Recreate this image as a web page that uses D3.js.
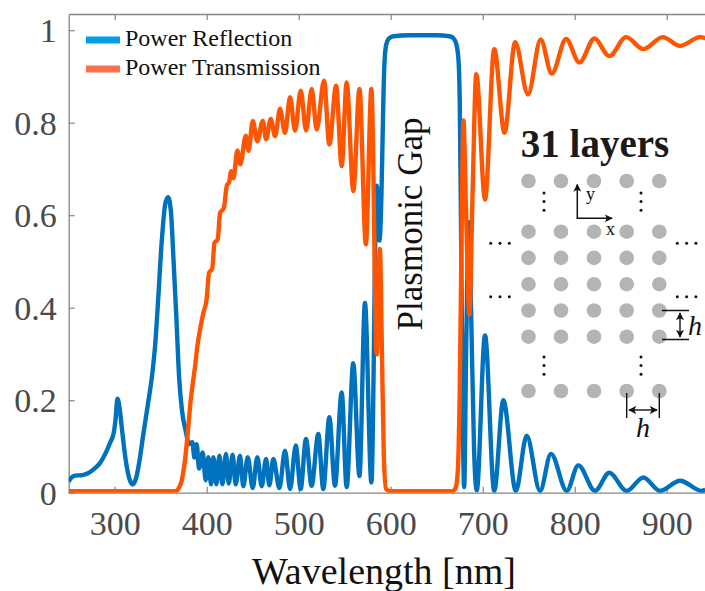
<!DOCTYPE html>
<html>
<head>
<meta charset="utf-8">
<script src="https://cdn.jsdelivr.net/npm/d3@7"></script>
<style>
  body { margin: 0; background: #fff; }
  svg { display: block; }
  text { font-family: "Liberation Serif", "Times New Roman", serif; }
</style>
</head>
<body>
<div id="chart"></div>
<script>
// wavelength [nm], power reflection
var reflection = [
  [250,0.024],[253,0.033],[257,0.037],[265,0.038],[271,0.042],[278,0.052],[284,0.064],[290,0.085],
  [295,0.108],[299,0.13],[301,0.16],[303,0.203],[305.5,0.18],[308,0.135],[312,0.07],[316,0.03],
  [319.5,0.018],[323,0.03],[327,0.07],[331,0.125],[336,0.19],[341,0.26],[344,0.32],[347,0.41],
  [351,0.54],[355,0.625],[358,0.639],[361,0.61],[364,0.5],[367,0.38],[370,0.25],[373,0.18],
  [377,0.135],[381,0.105],[384.4,0.109],[386.6,0.076],[389.1,0.105],[391.7,0.052],[395.6,0.087],
  [398.9,0.027],[401.8,0.077],[404.7,0.018],[407.2,0.077],[410.5,0.018],[413.8,0.08],[417,0.018],
  [421,0.084],[423.9,0.02],[428.2,0.082],[431.5,0.018],[436.2,0.08],[439.8,0.014],[444.6,0.077],
  [450,0.01],[455,0.077],[459.8,0.014],[464.5,0.073],[468.1,0.016],[472.4,0.073],[479,0.01],
  [485.1,0.091],[490.6,0.008],[496.8,0.102],[502.1,0.008],[507.9,0.116],[514,0.015],[521.3,0.127],
  [526.7,0.008],[533.3,0.163],[539.4,0.015],[546.7,0.217],[552.1,0.012],[559.3,0.28],[566,0.036],
  [572,0.41],[579,0.022],[584.8,0.664],[587.8,0.545],[590,0.65],[591.5,0.8],[593,0.92],[595,0.968],
  [598,0.982],[603,0.987],[620,0.989],[650,0.989],[664,0.987],[668,0.983],[671,0.972],[673.5,0.94],
  [675,0.85],[676.3,0.6],[677.5,0.32],[678.7,0.1],[679.8,0.012],[682.3,0.35],[685,0.585],[687.5,0.38],
  [690.5,0.1],[693.5,0.005],[702.5,0.34],[712.5,0.004],[722.4,0.2],[736,0.004],[747.8,0.123],
  [762.3,0.004],[774.2,0.084],[791.3,0.004],[803.9,0.059],[822.1,0.004],[837.6,0.043],[856.5,0.004],
  [874.6,0.033],[892.7,0.004],[914.5,0.026],[938,0.004],[942,0.006]
];

// wavelength [nm], power transmission
var transmission = [
  [250,0.003],[366,0.003],[369,0.008],[372.8,0.026],[376.4,0.07],[380,0.143],[382.6,0.2],[385.4,0.244],
  [387.3,0.272],[389.8,0.316],[392.7,0.352],[396.3,0.388],[400,0.42],[402.5,0.475],[406,0.485],
  [408.5,0.54],[412,0.548],[414.5,0.605],[418.5,0.615],[422,0.665],[424.5,0.672],[426.5,0.695],
  [429,0.68],[433.3,0.74],[436.5,0.71],[442.5,0.772],[445.5,0.739],[450,0.804],[455,0.76],
  [460.9,0.804],[464.5,0.764],[469.6,0.808],[474.3,0.771],[479.7,0.83],[485.1,0.778],[490.6,0.855],
  [496,0.783],[502.2,0.869],[508,0.783],[514.1,0.873],[519.6,0.785],[527.5,0.891],[533.3,0.753],
  [540.6,0.88],[546.7,0.706],[552.1,0.887],[559.4,0.652],[566,0.873],[573,0.537],[579,0.873],
  [584.8,0.299],[588.2,0.527],[590.5,0.3],[592.5,0.08],[595,0.008],[600,0.003],[667,0.003],
  [670.5,0.01],[673,0.05],[675,0.22],[677,0.55],[679,0.805],[682,0.6],[685.5,0.385],[689,0.65],
  [693,0.905],[702.5,0.634],[712.5,0.959],[723.7,0.778],[735.2,0.974],[749.2,0.861],[763,0.98],
  [775,0.906],[790.6,0.981],[805.1,0.93],[821.4,0.982],[837.7,0.944],[855.8,0.985],[874.6,0.959],
  [895.7,0.985],[914.5,0.966],[936.2,0.985],[942,0.983]
];

var xTicks = [300, 400, 500, 600, 700, 800, 900];
var yTicks = [0, 0.2, 0.4, 0.6, 0.8, 1];
var yTickLabels = ["0", "0.2", "0.4", "0.6", "0.8", "1"];
var seriesNames = ["Power Reflection", "Power Transmission"];

var width = 705, height = 591;
var margin = {left: 68.7, right: 0, top: 14, bottom: 98.3};

var blue = "#0072bd", orange = "#ff5500";
var legendColors = ["#00a0e6", "#ff6e4a"];

var x = d3.scaleLinear().domain([250, 941.6]).range([margin.left, width - margin.right]);
var y = d3.scaleLinear().domain([0, 1.035]).range([height - margin.bottom, margin.top]);

//Create SVG element
var svg = d3.select("#chart")
            .append("svg")
            .attr("width", width)
            .attr("height", height);

svg.append("defs").append("clipPath")
   .attr("id", "plot")
   .append("rect")
   .attr("x", margin.left).attr("y", margin.top)
   .attr("width", width - margin.left).attr("height", height - margin.bottom - margin.top);

var arrow = svg.select("defs").append("marker")
   .attr("id", "arrow")
   .attr("viewBox", "0 0 10 10")
   .attr("refX", 9).attr("refY", 5)
   .attr("markerWidth", 8).attr("markerHeight", 8)
   .attr("markerUnits", "userSpaceOnUse")
   .attr("orient", "auto-start-reverse");
arrow.append("path").attr("d", "M0,0 L10,5 L0,10 L2.5,5 Z").attr("fill", "#111");

//Axes
var gx = svg.append("g")
    .attr("transform", "translate(0," + y(0) + ")")
    .call(d3.axisBottom(x).tickValues(xTicks).tickSize(-6).tickSizeOuter(0).tickPadding(18));
var gxTop = svg.append("g")
    .attr("transform", "translate(0," + margin.top + ")")
    .call(d3.axisTop(x).tickValues(xTicks).tickSize(-6).tickSizeOuter(0).tickFormat(""));
var gy = svg.append("g")
    .attr("transform", "translate(" + margin.left + ",0)")
    .call(d3.axisLeft(y).tickValues(yTicks).tickSize(-6).tickSizeOuter(0).tickPadding(12)
          .tickFormat((d, i) => yTickLabels[i]));

[gx, gxTop, gy].forEach(function (g) {
    g.select(".domain").attr("stroke", "#858585").attr("stroke-width", 1.3);
    g.selectAll(".tick line").attr("stroke", "#858585").attr("stroke-width", 1.2);
    g.selectAll(".tick text")
     .attr("fill", "#4a4a4a")
     .style("font-family", "'Liberation Serif', serif")
     .style("font-size", "34px");
});
gx.selectAll(".tick text").attr("dy", "0.71em");
gy.selectAll(".tick text").attr("dy", "0.34em");

svg.append("text")
   .attr("x", 384).attr("y", 584)
   .attr("text-anchor", "middle")
   .style("font-size", "38px")
   .attr("fill", "#111")
   .text("Wavelength [nm]");

//Curves
var line = d3.line()
    .x(d => x(d[0]))
    .y(d => y(d[1]))
    .curve(d3.curveMonotoneX);

var curves = svg.append("g").attr("clip-path", "url(#plot)");
curves.append("path")
    .datum(reflection)
    .attr("fill", "none").attr("stroke", blue).attr("stroke-width", 4.4)
    .attr("stroke-linejoin", "round")
    .attr("d", line);
curves.append("path")
    .datum(transmission)
    .attr("fill", "none").attr("stroke", orange).attr("stroke-width", 4.4)
    .attr("stroke-linejoin", "round")
    .attr("d", line);

//Legend
var legend = svg.append("g").attr("transform", "translate(86,40)");
var rows = legend.selectAll("g").data(seriesNames).enter().append("g")
    .attr("transform", (d, i) => "translate(0," + i * 29 + ")");
rows.append("line")
    .attr("x1", 0).attr("x2", 34).attr("y1", 0).attr("y2", 0)
    .attr("stroke", (d, i) => legendColors[i]).attr("stroke-width", 7);
rows.append("text")
    .attr("x", 39).attr("y", 6)
    .style("font-size", "24px")
    .attr("fill", "#111")
    .text(d => d);

//Annotations
svg.append("text")
   .attr("transform", "translate(422,224) rotate(-90)")
   .attr("text-anchor", "middle")
   .style("font-size", "35px")
   .attr("fill", "#111")
   .text("Plasmonic Gap");

svg.append("text")
   .attr("x", 595).attr("y", 156.5)
   .attr("text-anchor", "middle")
   .style("font-size", "39px").style("font-weight", "bold")
   .attr("fill", "#1a1a1a")
   .text("31 layers");

//Inset: lattice of the layers
var gridCols = [528.5, 561, 594, 626.7, 659.3];
var gridRows = [181, 231.7, 257.9, 284.2, 310.5, 336.7, 391];
var inset = svg.append("g");
gridRows.forEach(function (ry) {
    inset.selectAll(null).data(gridCols).enter().append("circle")
        .attr("cx", d => d).attr("cy", ry).attr("r", 7.3)
        .attr("fill", "#b4b4b4");
});

var vDots = [[544, 193], [641, 193], [544, 357], [641, 357]];
vDots.forEach(function (p) {
    [0, 8.6, 17.2].forEach(function (o) {
        inset.append("circle").attr("cx", p[0]).attr("cy", p[1] + o).attr("r", 1.5).attr("fill", "#111");
    });
});
var hDots = [[490.7, 243.3], [490.7, 296.7], [677.3, 243.3], [677.3, 296.7]];
hDots.forEach(function (p) {
    [0, 9.3, 18.6].forEach(function (o) {
        inset.append("circle").attr("cx", p[0] + o).attr("cy", p[1]).attr("r", 1.5).attr("fill", "#111");
    });
});

// coordinate arrows
inset.append("path").attr("d", "M577.3,218.3 V184.5").attr("stroke", "#111").attr("stroke-width", 1.5)
     .attr("fill", "none").attr("marker-end", "url(#arrow)");
inset.append("path").attr("d", "M576.6,218.3 H612").attr("stroke", "#111").attr("stroke-width", 1.5)
     .attr("fill", "none").attr("marker-end", "url(#arrow)");
inset.append("text").attr("x", 586).attr("y", 200).style("font-size", "18px").attr("fill", "#111").text("y");
inset.append("text").attr("x", 606).attr("y", 235).style("font-size", "18px").attr("fill", "#111").text("x");

// lattice constant marks
var dimStyle = function (s) { return s.attr("stroke", "#111").attr("stroke-width", 1.4).attr("fill", "none"); };
inset.append("path").attr("d", "M662,310.5 H689 M662,339.5 H689").call(dimStyle);
inset.append("path").attr("d", "M680,313 V337").call(dimStyle)
     .attr("marker-start", "url(#arrow)").attr("marker-end", "url(#arrow)");
inset.append("text").attr("x", 688).attr("y", 335).style("font-size", "28px").style("font-style", "italic")
     .attr("fill", "#111").text("h");

inset.append("path").attr("d", "M626.7,393 V418 M659.3,393 V418").call(dimStyle);
inset.append("path").attr("d", "M629,410 H657").call(dimStyle)
     .attr("marker-start", "url(#arrow)").attr("marker-end", "url(#arrow)");
inset.append("text").attr("x", 643).attr("y", 437).attr("text-anchor", "middle")
     .style("font-size", "28px").style("font-style", "italic")
     .attr("fill", "#111").text("h");
</script>
</body>
</html>
